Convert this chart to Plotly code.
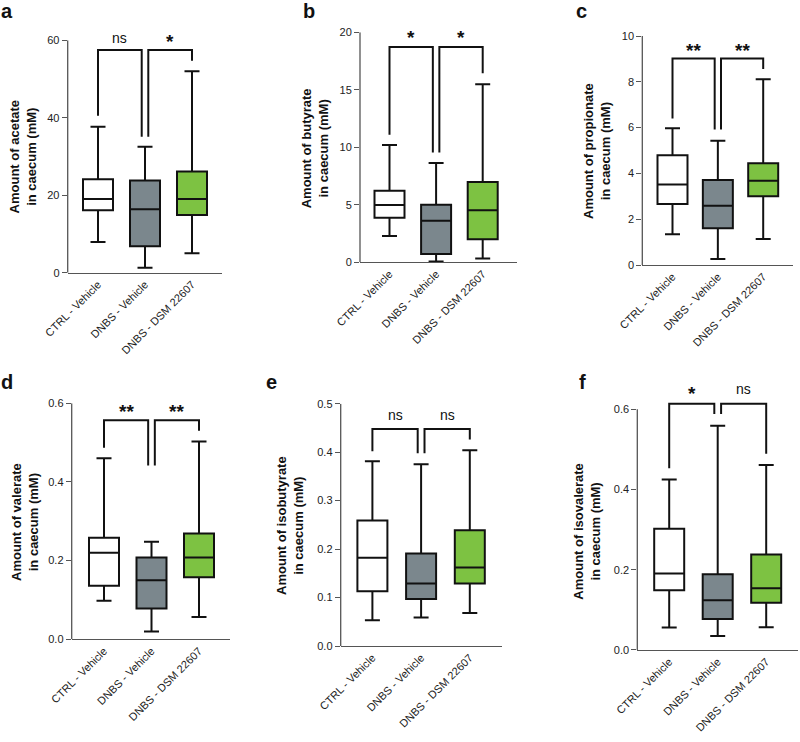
import plotly.graph_objects as go

W, H = 800, 742
FONT = "Liberation Sans, Arial, sans-serif"

groups = ["CTRL - Vehicle", "DNBS - Vehicle", "DNBS - DSM 22607"]
fills = ["#ffffff", "#7b878d", "#7dc242"]

letters = ["a", "b", "c", "d", "e", "f"]
y_titles = [
    "Amount of acetate<br>in caecum (mM)",
    "Amount of butyrate<br>in caecum (mM)",
    "Amount of propionate<br>in caecum (mM)",
    "Amount of valerate<br>in caecum (mM)",
    "Amount of isobutyrate<br>in caecum (mM)",
    "Amount of isovalerate<br>in caecum (mM)",
]
y_tickvals = [
    [0, 20, 40, 60],
    [0, 5, 10, 15, 20],
    [0, 2, 4, 6, 8, 10],
    [0.0, 0.2, 0.4, 0.6],
    [0.0, 0.1, 0.2, 0.3, 0.4, 0.5],
    [0.0, 0.2, 0.4, 0.6],
]
y_ticktext = [
    ["0", "20", "40", "60"],
    ["0", "5", "10", "15", "20"],
    ["0", "2", "4", "6", "8", "10"],
    ["0.0", "0.2", "0.4", "0.6"],
    ["0.0", "0.1", "0.2", "0.3", "0.4", "0.5"],
    ["0.0", "0.2", "0.4", "0.6"],
]
y_range_top = [60, 20, 10, 0.6, 0.5, 0.63]

# box statistics per panel: [CTRL, DNBS, DSM]
acetate_low = [7.9, 1.3, 5.0]
acetate_q1 = [16.1, 6.8, 14.9]
acetate_med = [19.0, 16.4, 19.0]
acetate_q3 = [24.1, 23.8, 26.1]
acetate_high = [37.7, 32.5, 52.0]

butyrate_low = [2.29, 0.06, 0.32]
butyrate_q1 = [3.88, 0.72, 2.0]
butyrate_med = [4.99, 3.62, 4.52]
butyrate_q3 = [6.23, 5.01, 6.99]
butyrate_high = [10.2, 8.64, 15.48]

propionate_low = [1.34, 0.26, 1.13]
propionate_q1 = [2.66, 1.60, 3.00]
propionate_med = [3.52, 2.59, 3.68]
propionate_q3 = [4.79, 3.71, 4.44]
propionate_high = [5.97, 5.43, 8.11]

valerate_low = [0.098, 0.020, 0.057]
valerate_q1 = [0.136, 0.078, 0.158]
valerate_med = [0.220, 0.150, 0.208]
valerate_q3 = [0.258, 0.208, 0.269]
valerate_high = [0.460, 0.248, 0.503]

isobutyrate_low = [0.053, 0.059, 0.068]
isobutyrate_q1 = [0.113, 0.097, 0.129]
isobutyrate_med = [0.182, 0.129, 0.162]
isobutyrate_q3 = [0.259, 0.191, 0.239]
isobutyrate_high = [0.381, 0.375, 0.404]

isovalerate_low = [0.056, 0.035, 0.057]
isovalerate_q1 = [0.149, 0.077, 0.118]
isovalerate_med = [0.191, 0.124, 0.154]
isovalerate_q3 = [0.302, 0.189, 0.238]
isovalerate_high = [0.425, 0.559, 0.461]

stats = [
    (acetate_low, acetate_q1, acetate_med, acetate_q3, acetate_high),
    (butyrate_low, butyrate_q1, butyrate_med, butyrate_q3, butyrate_high),
    (propionate_low, propionate_q1, propionate_med, propionate_q3, propionate_high),
    (valerate_low, valerate_q1, valerate_med, valerate_q3, valerate_high),
    (isobutyrate_low, isobutyrate_q1, isobutyrate_med, isobutyrate_q3, isobutyrate_high),
    (isovalerate_low, isovalerate_q1, isovalerate_med, isovalerate_q3, isovalerate_high),
]

# significance brackets: (left group, right group, top, left leg end, right leg end, label, label y)
brackets = [
    [(0, 1, 57.5, 40.5, 35.1, "ns", 60.4), (1, 2, 57.5, 35.1, 54.7, "*", 60.3)],
    [(0, 1, 18.72, 11.1, 9.54, "*", 19.7), (1, 2, 18.72, 9.54, 16.43, "*", 19.7)],
    [(0, 1, 9.02, 6.40, 5.92, "**", 9.46), (1, 2, 9.02, 5.92, 8.56, "**", 9.46)],
    [(0, 1, 0.557, 0.487, 0.442, "**", 0.585), (1, 2, 0.557, 0.442, 0.530, "**", 0.585)],
    [(0, 1, 0.448, 0.402, 0.398, "ns", 0.474), (1, 2, 0.448, 0.398, 0.426, "ns", 0.474)],
    [(0, 1, 0.614, 0.453, 0.588, "*", 0.644), (1, 2, 0.614, 0.588, 0.489, "ns", 0.647)],
]

# panel geometry in pixels: y-axis x, first cat, last cat, x-axis end, y of zero, y of top tick
geom = [
    (67.7, 98.0, 192.0, 222.0, 272.7, 40.3),
    (360.0, 389.5, 482.7, 516.7, 262.3, 32.3),
    (642.3, 672.5, 763.2, 793.0, 265.0, 36.0),
    (71.7, 104.0, 199.0, 230.0, 639.3, 403.3),
    (340.7, 372.4, 469.8, 502.0, 646.0, 403.7),
    (637.3, 669.2, 766.2, 798.0, 650.0, 409.3),
]
title_pos = [(23.4, 157), (315.3, 148), (597.5, 151.5), (24.5, 522.5), (290.0, 526), (586.7, 531)]
letter_pos = [(-1, 10.5), (300.5, 10.5), (573.5, 10.5), (-1, 381.5), (263.5, 381.5), (577, 381.5)]

fig = go.Figure()
shapes = []
annotations = []
layout = {}

for p in range(6):
    ax_x, c0, c2, x_end, y0px, ytop_px = geom[p]
    sp = (c2 - c0) / 2.0
    r0 = -(c0 - ax_x) / sp
    r1 = 2 + (x_end - c2) / sp
    ytop_val = y_tickvals[p][-1]
    scale = (y0px - ytop_px) / ytop_val
    ytop_dom_px = y0px - y_range_top[p] * scale
    xa = "xaxis" if p == 0 else f"xaxis{p+1}"
    ya = "yaxis" if p == 0 else f"yaxis{p+1}"
    xr = "x" if p == 0 else f"x{p+1}"
    yr = "y" if p == 0 else f"y{p+1}"
    layout[xa] = dict(
        domain=[ax_x / W, x_end / W], anchor=yr, type="category",
        categoryorder="array", categoryarray=groups, range=[r0, r1],
        showline=True, linecolor="#555555", linewidth=1.3, ticks="",
        tickangle=-45, tickfont=dict(family=FONT, size=11, color="#222222"),
        showgrid=False, zeroline=False, fixedrange=True, automargin=False,
    )
    layout[ya] = dict(
        domain=[1 - y0px / H, 1 - ytop_dom_px / H], anchor=xr,
        range=[0, y_range_top[p]], tickvals=y_tickvals[p], ticktext=y_ticktext[p],
        showline=False, ticks="outside", ticklen=5, tickwidth=1.3, tickcolor="#555555",
        tickfont=dict(family=FONT, size=11, color="#222222"),
        showgrid=False, zeroline=False, fixedrange=True, automargin=False,
    )
    # y-axis line up to top tick
    shapes.append(dict(type="line", xref=f"{xr} domain", x0=0, x1=0, yref=yr,
                       y0=0, y1=ytop_val, line=dict(color="#555555", width=1.3)))
    low, q1, med, q3, high = stats[p]
    for g in range(3):
        fig.add_trace(go.Box(
            x=[groups[g]], lowerfence=[low[g]], q1=[q1[g]], median=[med[g]],
            q3=[q3[g]], upperfence=[high[g]], boxpoints=False,
            fillcolor=fills[g], line=dict(color="#111111", width=2),
            whiskerwidth=0.5, width=30.0 / sp, xaxis=xr, yaxis=yr,
            showlegend=False, hoverinfo="skip",
        ))
    for (gl, gr, top, yl, yrr, lab, ly) in brackets[p]:
        xl = gl + (0.07 if gl == 1 else 0.0)
        xrp = gr - (0.07 if gr == 1 else 0.0)
        path = f"M {xl},{yl} L {xl},{top} L {xrp},{top} L {xrp},{yrr}"
        shapes.append(dict(type="path", xref=xr, yref=yr, path=path,
                           line=dict(color="#111111", width=2)))
        star = "*" in lab
        annotations.append(dict(
            x=(xl + xrp) / 2, y=ly / y_range_top[p], xref=xr, yref=f"{yr} domain",
            text=lab, showarrow=False,
            xanchor="center", yanchor="middle", yshift=-2 if star else 1,
            font=dict(family=FONT, size=19 if star else 14, color="#111111",
                      weight="bold" if star else "normal"),
        ))
    tx, ty = title_pos[p]
    annotations.append(dict(
        x=tx / W, y=1 - ty / H, xref="paper", yref="paper", text=y_titles[p],
        textangle=-90, showarrow=False, xanchor="center", yanchor="middle",
        font=dict(family=FONT, size=13, color="#111111", weight="bold"),
    ))
    lx, lyp = letter_pos[p]
    annotations.append(dict(
        x=lx / W, y=1 - lyp / H, xref="paper", yref="paper", text=letters[p],
        showarrow=False, xanchor="left", yanchor="middle",
        font=dict(family=FONT, size=20, color="#111111", weight="bold"),
    ))

fig.update_layout(
    template="none",
    width=W, height=H, margin=dict(l=0, r=0, t=0, b=0, autoexpand=False),
    paper_bgcolor="white", plot_bgcolor="white",
    shapes=shapes, annotations=annotations, boxmode="overlay",
    font=dict(family=FONT), **layout,
)

fig.write_html("out.html", config={"displayModeBar": False},
               post_script="document.body.style.margin='0';")
